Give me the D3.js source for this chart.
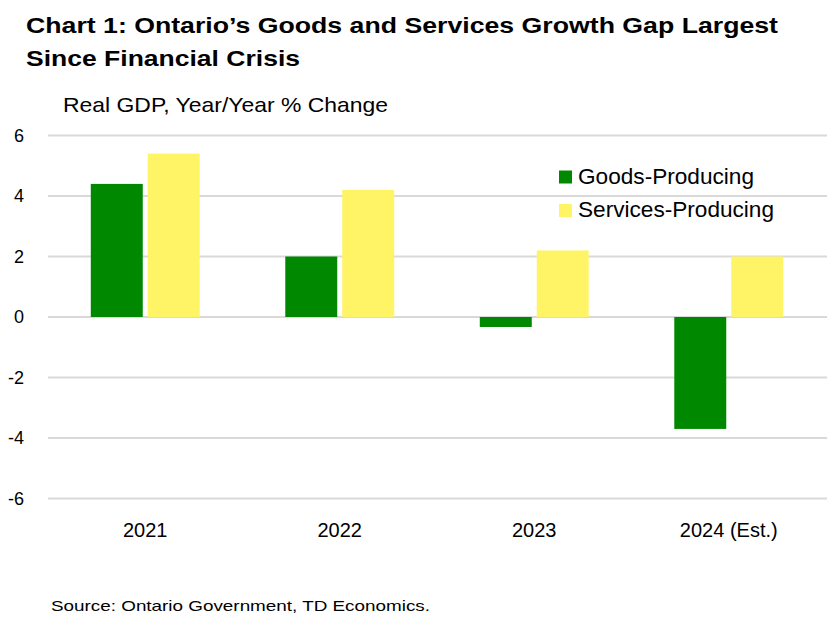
<!DOCTYPE html>
<html>
<head>
<meta charset="utf-8">
<script src="https://cdn.jsdelivr.net/npm/d3@7"></script>
<style>
  html, body { margin: 0; padding: 0; background: #fff; }
  svg text { font-family: "Liberation Sans", Arial, sans-serif; fill: #000; }
</style>
</head>
<body>
<svg id="chart" width="827" height="618"></svg>
<script>
const categories = ["2021", "2022", "2023", "2024 (Est.)"];
const seriesNames = ["Goods-Producing", "Services-Producing"];
const goodsValues = [4.4, 2.0, -0.33, -3.7];
const servicesValues = [5.4, 4.2, 2.2, 2.0];
const yTicks = [6, 4, 2, 0, -2, -4, -6];
const colors = ["#008800", "#fff466"];

const titleLines = ["Chart 1: Ontario\u2019s Goods and Services Growth Gap Largest", "Since Financial Crisis"];
const yAxisTitle = "Real GDP, Year/Year % Change";
const sourceText = "Source: Ontario Government, TD Economics.";

const svg = d3.select("#chart");

const rows = categories.map((c, i) => ({cat: c, values: [goodsValues[i], servicesValues[i]]}));

const x0 = d3.scaleBand().domain(categories).range([48, 826]).paddingInner(0.44).paddingOuter(0.22);
const x1 = d3.scaleBand().domain(seriesNames).range([0, x0.bandwidth()]).paddingInner(0.0877);
const y = d3.scaleLinear().domain([-6, 6]).range([498.5, 135.5]);

// gridlines
svg.append("g").selectAll("line").data(yTicks).join("line")
  .attr("x1", 48).attr("x2", 827)
  .attr("y1", d => y(d)).attr("y2", d => y(d))
  .attr("stroke", "#d9d9d9").attr("stroke-width", 2);

// y tick labels
svg.append("g").selectAll("text").data(yTicks).join("text")
  .attr("x", 24).attr("y", d => y(d)).attr("dy", "0.35em")
  .attr("text-anchor", "end").attr("font-size", 18)
  .text(d => d);

// bars
const groups = svg.append("g").selectAll("g").data(rows).join("g")
  .attr("transform", d => `translate(${x0(d.cat)},0)`);
groups.selectAll("rect").data(d => d.values.map((v, i) => ({name: seriesNames[i], v, i}))).join("rect")
  .attr("x", d => x1(d.name)).attr("width", x1.bandwidth())
  .attr("y", d => y(Math.max(0, d.v)))
  .attr("height", d => Math.abs(y(d.v) - y(0)))
  .attr("fill", d => colors[d.i]);

// x labels
svg.append("g").selectAll("text").data(categories).join("text")
  .attr("x", d => x0(d) + x0.bandwidth() / 2).attr("y", 537)
  .attr("text-anchor", "middle").attr("font-size", 20)
  .text(d => d);

// title
const titleWidths = [752, 274];
svg.append("g").selectAll("text").data(titleLines).join("text")
  .attr("x", 26).attr("y", (d, i) => 33 + i * 33)
  .attr("font-size", 21.5).attr("font-weight", "bold")
  .attr("textLength", (d, i) => titleWidths[i]).attr("lengthAdjust", "spacingAndGlyphs")
  .text(d => d);

// y axis title
svg.append("text").attr("x", 63).attr("y", 112).attr("font-size", 21)
  .attr("textLength", 325).attr("lengthAdjust", "spacingAndGlyphs")
  .text(yAxisTitle);

// legend
const legendWidths = [176, 196];
const legend = svg.append("g").selectAll("g").data(seriesNames).join("g")
  .attr("transform", (d, i) => `translate(559, ${183.5 + i * 33.5})`);
legend.append("rect").attr("x", 0).attr("y", -13).attr("width", 13).attr("height", 13)
  .attr("fill", (d, i) => colors[i]);
legend.append("text").attr("x", 19).attr("y", 0).attr("font-size", 22)
  .attr("textLength", (d, i) => legendWidths[i]).attr("lengthAdjust", "spacingAndGlyphs")
  .text(d => d);

// source
svg.append("text").attr("x", 51).attr("y", 611).attr("font-size", 14.5)
  .attr("textLength", 379).attr("lengthAdjust", "spacingAndGlyphs")
  .text(sourceText);
</script>
</body>
</html>
